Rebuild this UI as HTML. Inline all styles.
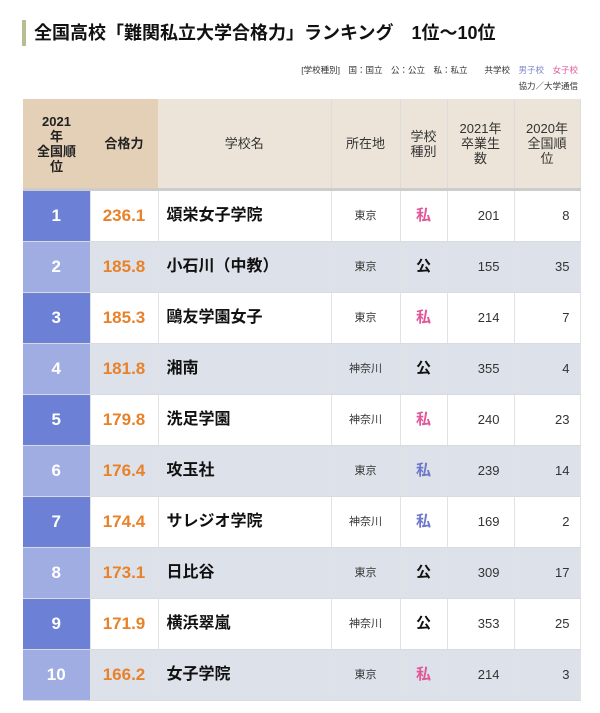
<!DOCTYPE html>
<html><head><meta charset="utf-8">
<style>
body{margin:0;width:600px;height:713px;background:#fff;font-family:"Liberation Sans","Noto Sans CJK JP",sans-serif;position:relative;overflow:hidden}
.title{position:absolute;left:22px;top:20px;height:26px;border-left:4px solid #b9bd94;padding-left:8px;font-size:18px;font-weight:bold;line-height:26px;color:#111;white-space:nowrap}
.legend{position:absolute;right:22px;top:62px;font-size:8.5px;color:#333;text-align:right;line-height:16px}
table{position:absolute;left:23px;top:99px;width:557px;border-collapse:collapse;table-layout:fixed}
th{font-size:13px;font-weight:normal;color:#333;background:#ece4d9;border-right:1px solid #ddd;height:89px;line-height:15px;padding:0;border-bottom:3px solid #ccc}
th.t{background:#e3d0b6;font-weight:bold;color:#222;border-right:none}
td{height:50px;padding:0;border-right:1px solid #e2e2e2;border-bottom:1px solid #d8dce2;font-size:12px;color:#333;line-height:20px;vertical-align:middle}
tr.o td{background:#fff}tr.e td{background:#dde2ea}
td.r{color:#fff;font-size:17px;font-weight:bold;text-align:center}
tr.o td.r{background:#6c80d6}tr.e td.r{background:#9fade3}
td.s{color:#e8822a;font-size:17px;font-weight:bold;text-align:center}
td.n{font-size:16px;font-weight:bold;color:#111;padding-left:8px}
td.p{text-align:center;font-size:11px}
td.k{text-align:center;font-size:15px;font-weight:bold}
td.g{text-align:right;padding-right:14px;font-size:13px}
td.l{text-align:right;padding-right:10px;font-size:13px}
</style></head><body>
<div class="title">全国高校「難関私立大学合格力」ランキング　1位〜10位</div>
<div class="legend">[学校種別]　国：国立　公：公立　私：私立　　共学校　<span style="color:#7a84cc">男子校</span>　<span style="color:#e0589a">女子校</span><br>協力／大学通信</div>
<table>
<colgroup><col style="width:67px"><col style="width:68px"><col style="width:173px"><col style="width:69px"><col style="width:47px"><col style="width:67px"><col style="width:66px"></colgroup>
<thead><tr>
<th class="t">2021<br>年<br>全国順<br>位</th>
<th class="t">合格力</th>
<th>学校名</th>
<th>所在地</th>
<th>学校<br>種別</th>
<th>2021年<br>卒業生<br>数</th>
<th>2020年<br>全国順<br>位</th>
</tr></thead>
<tbody id="tb"></tbody></table>
<script>
const ranks=[1,2,3,4,5,6,7,8,9,10];
const scores=["236.1","185.8","185.3","181.8","179.8","176.4","174.4","173.1","171.9","166.2"];
const schools=["頌栄女子学院","小石川（中教）","鷗友学園女子","湘南","洗足学園","攻玉社","サレジオ学院","日比谷","横浜翠嵐","女子学院"];
const places=["東京","東京","東京","神奈川","神奈川","東京","神奈川","東京","神奈川","東京"];
const types=["私","公","私","公","私","私","私","公","公","私"];
const genders=["f","c","f","c","f","m","m","c","c","f"];
const grads=[201,155,214,355,240,239,169,309,353,214];
const prev=[8,35,7,4,23,14,2,17,25,3];
const tb=document.getElementById('tb');
const gc={f:"#e0589a",m:"#6e78c8",c:"#111"};
ranks.forEach((r,i)=>{
 const tr=document.createElement('tr');
 tr.className=i%2?'e':'o';
 
 
 const cells=[['r',r,'rank-cell'],['s',scores[i],'score-cell'],['n',schools[i],'school-name'],['p',places[i],'location-cell'],['k',types[i],'type-cell'],['g',grads[i],'grads-cell'],['l',prev[i],'prev-rank-cell']];
 cells.forEach(c=>{
  const td=document.createElement('td');
  td.className=c[0];td.textContent=c[1];
  if(c[0]==='k')td.style.color=gc[genders[i]];
  
  
  tr.appendChild(td);
 });
 tb.appendChild(tr);
});
</script>
</body></html>
